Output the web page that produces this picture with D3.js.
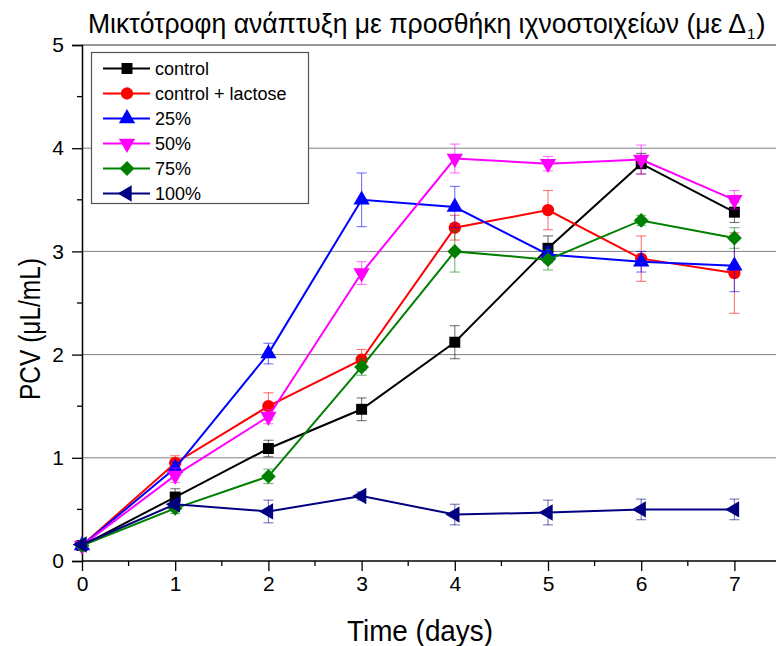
<!DOCTYPE html>
<html lang="el">
<head>
<meta charset="UTF-8">
<title>PCV chart</title>
<style>
  body{ margin: 0; background: #fff; }
  #canvas{ width: 776px; height: 646px; }
  text{ font-family: "Liberation Sans", Arial, sans-serif; fill: #000; }
  .grid line{ stroke: #808080; stroke-width: 1; }
</style>
<script src="https://cdn.jsdelivr.net/npm/d3@7"></script>
</head>
<body>
<div id="canvas"></div>
<script>
//data
var days = [0, 1, 2, 3, 4, 5, 6, 7];
var seriesNames = ["control", "control + lactose", "25%", "50%", "75%", "100%"];
var control    = [0.15, 0.62, 1.09, 1.47, 2.12, 3.03, 3.85, 3.38];
var controlErr = [0.02, 0.08, 0.08, 0.11, 0.16, 0.12, 0.10, 0.10];
var lactose    = [0.15, 0.95, 1.50, 1.95, 3.23, 3.40, 2.93, 2.79];
var lactoseErr = [0.02, 0.07, 0.13, 0.10, 0.12, 0.19, 0.22, 0.39];
var p25        = [0.15, 0.90, 2.01, 3.50, 3.43, 2.97, 2.90, 2.86];
var p25Err     = [0.02, 0.06, 0.10, 0.26, 0.20, 0.08, 0.10, 0.25];
var p50        = [0.15, 0.83, 1.40, 2.79, 3.90, 3.85, 3.89, 3.50];
var p50Err     = [0.02, 0.07, 0.07, 0.11, 0.14, 0.07, 0.14, 0.09];
var p75        = [0.15, 0.51, 0.82, 1.88, 3.00, 2.92, 3.30, 3.13];
var p75Err     = [0.02, 0.05, 0.07, 0.08, 0.20, 0.10, 0.05, 0.10];
var p100       = [0.16, 0.55, 0.48, 0.63, 0.45, 0.47, 0.50, 0.50];
var p100Err    = [0.02, 0.04, 0.11, 0.04, 0.10, 0.12, 0.10, 0.10];
var xTicks = [0, 1, 2, 3, 4, 5, 6, 7];
var yTicks = [0, 1, 2, 3, 4, 5];

var allValues = [control, lactose, p25, p50, p75, p100];
var allErrors = [controlErr, lactoseErr, p25Err, p50Err, p75Err, p100Err];
var colors = ["#000000", "#ff0000", "#0000ff", "#ff00ff", "#008000", "#000080"];
var shapes = [
  {type: d3.symbolSquare, size: 120, rot: 0},
  {type: d3.symbolCircle, size: 120, rot: 0},
  {type: d3.symbolTriangle, size: 115, rot: 0},
  {type: d3.symbolTriangle, size: 115, rot: 180},
  {type: d3.symbolSquare, size: 110, rot: 45},
  {type: d3.symbolTriangle, size: 115, rot: -90}
];

var series = seriesNames.map(function(name, i){
  return {
    name: name, color: colors[i], shape: shapes[i],
    points: days.map(function(d, j){ return {day: d, v: allValues[i][j], e: allErrors[i][j]}; })
  };
});

//layout
var width = 776, height = 646;
var plotLeft = 82, plotRight = 781, plotTop = 45, plotBottom = 561;

var x = d3.scaleLinear().domain([0, 7.5]).range([plotLeft, plotRight]);
var y = d3.scaleLinear().domain([0, 5]).range([plotBottom, plotTop]);

var svg = d3.select("#canvas").append("svg")
  .attr("width", width).attr("height", height);

//grid
svg.append("g").attr("class", "grid")
  .selectAll("line").data([1, 2, 3, 4]).enter().append("line")
  .attr("x1", plotLeft).attr("x2", width)
  .attr("y1", function(d){ return y(d); }).attr("y2", function(d){ return y(d); });

//frame top
svg.append("line").attr("x1", plotLeft).attr("x2", width).attr("y1", plotTop).attr("y2", plotTop)
  .attr("stroke", "#333").attr("stroke-width", 1.2);

//axes
var xAxis = d3.axisBottom(x).tickValues(xTicks).tickFormat(d3.format("d")).tickSize(10).tickPadding(5);
var yAxis = d3.axisLeft(y).tickValues(yTicks).tickFormat(d3.format("d")).tickSize(10).tickPadding(8);

var gx = svg.append("g").attr("transform", "translate(0," + plotBottom + ")").call(xAxis);
var gy = svg.append("g").attr("transform", "translate(" + plotLeft + ",0)").call(yAxis);
[gx, gy].forEach(function(g){
  g.select(".domain").attr("stroke", "#000").attr("stroke-width", 1.5);
  g.selectAll(".tick line").attr("stroke", "#000").attr("stroke-width", 1.3);
  g.selectAll(".tick text").style("font-size", "21px").attr("fill", "#000");
});
gx.select(".domain").attr("d", "M" + plotLeft + ",0H" + width);

//minor ticks
svg.append("g").selectAll("line").data(d3.range(0.5, 7.5, 1)).enter().append("line")
  .attr("x1", function(d){ return x(d); }).attr("x2", function(d){ return x(d); })
  .attr("y1", plotBottom).attr("y2", plotBottom + 5).attr("stroke", "#000").attr("stroke-width", 1.3);
svg.append("g").selectAll("line").data(d3.range(0.5, 5, 1)).enter().append("line")
  .attr("y1", function(d){ return y(d); }).attr("y2", function(d){ return y(d); })
  .attr("x1", plotLeft - 5).attr("x2", plotLeft).attr("stroke", "#000").attr("stroke-width", 1.3);

//axis titles
svg.append("text")
  .attr("x", 420).attr("y", 641).attr("text-anchor", "middle")
  .attr("textLength", 146).attr("lengthAdjust", "spacingAndGlyphs")
  .style("font-size", "29px").text("Time (days)");
svg.append("text")
  .attr("transform", "translate(40,329) rotate(-90)").attr("text-anchor", "middle")
  .attr("textLength", 142).attr("lengthAdjust", "spacingAndGlyphs")
  .style("font-size", "29px").text("PCV (μL/mL)");

//title
var title = svg.append("text").attr("x", 88).attr("y", 33).style("font-size", "28px");
title.append("tspan").attr("textLength", 658).attr("lengthAdjust", "spacingAndGlyphs")
  .text("Μικτότροφη ανάπτυξη με προσθήκη ιχνοστοιχείων (με Δ");
title.append("tspan").attr("dy", 6).attr("dx", 1).style("font-size", "15px").text("1");
title.append("tspan").attr("dy", -6).attr("dx", 1).text(")");

var line = d3.line().x(function(d){ return x(d.day); }).y(function(d){ return y(d.v); });
var sym = function(s){ return d3.symbol().type(s.type).size(s.size)(); };

//series
series.forEach(function(s){
  var g = svg.append("g");
  //error bars
  var eb = g.selectAll(".err").data(s.points).enter().append("g")
    .attr("stroke", s.color).attr("stroke-opacity", 0.55).attr("stroke-width", 1.1);
  eb.append("line")
    .attr("x1", function(d){ return x(d.day); }).attr("x2", function(d){ return x(d.day); })
    .attr("y1", function(d){ return y(d.v + d.e); }).attr("y2", function(d){ return y(d.v - d.e); });
  eb.append("line")
    .attr("x1", function(d){ return x(d.day) - 5; }).attr("x2", function(d){ return x(d.day) + 5; })
    .attr("y1", function(d){ return y(d.v + d.e); }).attr("y2", function(d){ return y(d.v + d.e); });
  eb.append("line")
    .attr("x1", function(d){ return x(d.day) - 5; }).attr("x2", function(d){ return x(d.day) + 5; })
    .attr("y1", function(d){ return y(d.v - d.e); }).attr("y2", function(d){ return y(d.v - d.e); });

  g.append("path").datum(s.points).attr("d", line)
    .attr("fill", "none").attr("stroke", s.color).attr("stroke-width", 2);

  g.selectAll(".mk").data(s.points).enter().append("path")
    .attr("d", sym(s.shape)).attr("fill", s.color)
    .attr("transform", function(d){ return "translate(" + x(d.day) + "," + y(d.v) + ") rotate(" + s.shape.rot + ")"; });
});

//legend
var lg = svg.append("g");
lg.append("rect").attr("x", 91.5).attr("y", 52.5).attr("width", 217).attr("height", 151)
  .attr("fill", "#fff").attr("stroke", "#555").attr("stroke-width", 1.2);
series.forEach(function(s, i){
  var ly = 68.5 + i * 25;
  lg.append("line").attr("x1", 103).attr("x2", 150).attr("y1", ly).attr("y2", ly)
    .attr("stroke", s.color).attr("stroke-width", 2);
  lg.append("path").attr("d", sym(s.shape)).attr("fill", s.color)
    .attr("transform", "translate(127," + ly + ") rotate(" + s.shape.rot + ")");
  lg.append("text").attr("x", 155).attr("y", ly + 6.5).style("font-size", "18px").text(s.name);
});
</script>
</body>
</html>
